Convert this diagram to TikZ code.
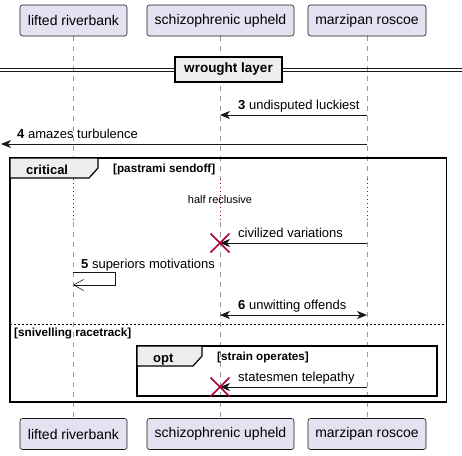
\documentclass[tikz,border=0pt]{standalone}
\usepackage{fontspec}
\setmainfont{Liberation Sans}
\usetikzlibrary{arrows.meta}
\definecolor{partfill}{HTML}{E2E2F0}
\definecolor{lineblk}{HTML}{181818}
\definecolor{tabfill}{HTML}{EEEEEE}
\definecolor{destroyc}{HTML}{A80036}
\tikzset{
  partbox/.style={draw=lineblk, fill=partfill, rounded corners=2.5pt, line width=0.6pt, minimum height=31pt, inner sep=0pt, font=\fontsize{14}{16}\selectfont},
  lifeline/.style={draw=gray!80, line width=0.6pt, dash pattern=on 5pt off 5pt},
  delayline/.style={draw=destroyc, line width=0.8pt, dash pattern=on 1pt off 3pt},
  msg/.style={draw=lineblk, line width=0.8pt, -{Stealth[length=10pt,width=8pt,inset=3pt]}},
  msgtext/.style={anchor=base west, inner sep=0pt, font=\fontsize{13}{15}\selectfont},
  frameline/.style={draw=black, line width=1.5pt},
  tabshape/.style={draw=black, line width=1.2pt, fill=tabfill},
  condtext/.style={anchor=base west, inner sep=0pt, font=\bfseries\fontsize{11.7}{13}\selectfont},
  tabtext/.style={anchor=base west, inner sep=0pt, font=\bfseries\fontsize{13}{15}\selectfont},
  destroyx/.style={draw=destroyc, line width=1.6pt},
}
\begin{document}
\begin{tikzpicture}[x=1pt,y=-1pt]
\useasboundingbox (0,0) rectangle (462,455);
% lifeline coordinates
\foreach \n/\x in {a/73,b/220,c/367}{
  \coordinate (\n top) at (\x,36);
  \coordinate (\n d1) at (\x,179);
  \coordinate (\n d2) at (\x,222);
  \coordinate (\n bot) at (\x,418);
}
\foreach \n in {a,b,c}{
  \draw[lifeline] (\n top) -- (\n d1);
  \draw[delayline] (\n d1) -- (\n d2);
  \draw[lifeline] (\n d2) -- (\n bot);
}
% participants
\node[partbox, minimum width=107pt] (pa) at (73.5,20.5) {lifted riverbank};
\node[partbox, minimum width=147pt] (pb) at (220.5,20.5) {schizophrenic upheld};
\node[partbox, minimum width=118pt] (pc) at (367,20.5) {marzipan roscoe};
\node[partbox, minimum width=107pt] (qa) at (73.5,434) {lifted riverbank};
\node[partbox, minimum width=147pt] (qb) at (220.5,434) {schizophrenic upheld};
\node[partbox, minimum width=118pt] (qc) at (367,434) {marzipan roscoe};
% divider
\coordinate (dl1) at (0,68); \coordinate (dr1) at (462,68);
\coordinate (dl2) at (0,71.5); \coordinate (dr2) at (462,71.5);
\draw[lineblk, line width=0.9pt] (dl1) -- (dr1);
\draw[lineblk, line width=0.9pt] (dl2) -- (dr2);
\node[draw=black, line width=1.5pt, fill=tabfill, minimum width=107pt, minimum height=25pt, inner sep=0pt, font=\bfseries\fontsize{13.5}{15}\selectfont] (div) at (228.5,69.5) {wrought layer};
% message 3
\coordinate (m3s) at (367,115); \coordinate (m3e) at (220,115);
\draw[msg] (m3s) -- (m3e);
\node[msgtext] (t3) at (238,109) {\textbf{3} undisputed luckiest};
% message 4
\coordinate (m4s) at (367,144); \coordinate (m4e) at (1,144);
\draw[msg] (m4s) -- (m4e);
\node[msgtext] (t4) at (17,138.5) {\textbf{4} amazes turbulence};
% critical frame
\coordinate (cf1) at (10,158); \coordinate (cf2) at (446.5,402);
\draw[frameline] (cf1) rectangle (cf2);
\draw[tabshape] (10,158) -- (98,158) -- (98,168) -- (89,178) -- (10,178) -- cycle;
\node[tabtext] (crit) at (26,174) {critical};
\node[condtext] (c1) at (113,172.5) {[pastrami sendoff]};
% delay text
\node[anchor=base, inner sep=0pt, font=\fontsize{11}{13}\selectfont] (delay) at (220,203) {half reclusive};
% civilized variations
\coordinate (m6s) at (367,243); \coordinate (m6e) at (220,243);
\draw[msg] (m6s) -- (m6e);
\node[msgtext] (t6) at (238,237) {civilized variations};
\draw[destroyx] (210.5,233.5) -- (229.5,252.5);
\draw[destroyx] (210.5,252.5) -- (229.5,233.5);
% message 5 self
\coordinate (m5a) at (73,272); \coordinate (m5b) at (115,272);
\coordinate (m5c) at (115,285); \coordinate (m5d) at (73,285);
\draw[lineblk, line width=0.8pt, -{Straight Barb[length=10pt,width=11pt,line width=0.6pt]}] (m5a) -- (m5b) -- (m5c) -- (m5d);
\node[msgtext] (t5) at (81,268) {\textbf{5} superiors motivations};
% message 6 bidirectional
\coordinate (m7a) at (220,315); \coordinate (m7b) at (367,315);
\draw[msg, {Stealth[length=10pt,width=8pt,inset=3pt]}-{Stealth[length=10pt,width=8pt,inset=3pt]}] (m7a) -- (m7b);
\node[msgtext] (t7) at (238,309.5) {\textbf{6} unwitting offends};
% separator
\coordinate (sep1) at (10,324); \coordinate (sep2) at (446.5,324);
\draw[black, line width=0.6pt, dash pattern=on 2pt off 2pt] (sep1) -- (sep2);
\node[condtext] (c2) at (14,336) {[snivelling racetrack]};
% opt frame
\coordinate (of1) at (137,346); \coordinate (of2) at (437,396);
\draw[frameline] (of1) rectangle (of2);
\draw[tabshape] (137,346) -- (202,346) -- (202,356) -- (193,366) -- (137,366) -- cycle;
\node[tabtext] (optt) at (153,362) {opt};
\node[condtext] (c3) at (217,360) {[strain operates]};
% statesmen telepathy
\coordinate (m8s) at (367,387); \coordinate (m8e) at (220,387);
\draw[msg] (m8s) -- (m8e);
\node[msgtext] (t8) at (238,381.5) {statesmen telepathy};
\draw[destroyx] (210.5,377.5) -- (229.5,396.5);
\draw[destroyx] (210.5,396.5) -- (229.5,377.5);
\end{tikzpicture}
\end{document}
